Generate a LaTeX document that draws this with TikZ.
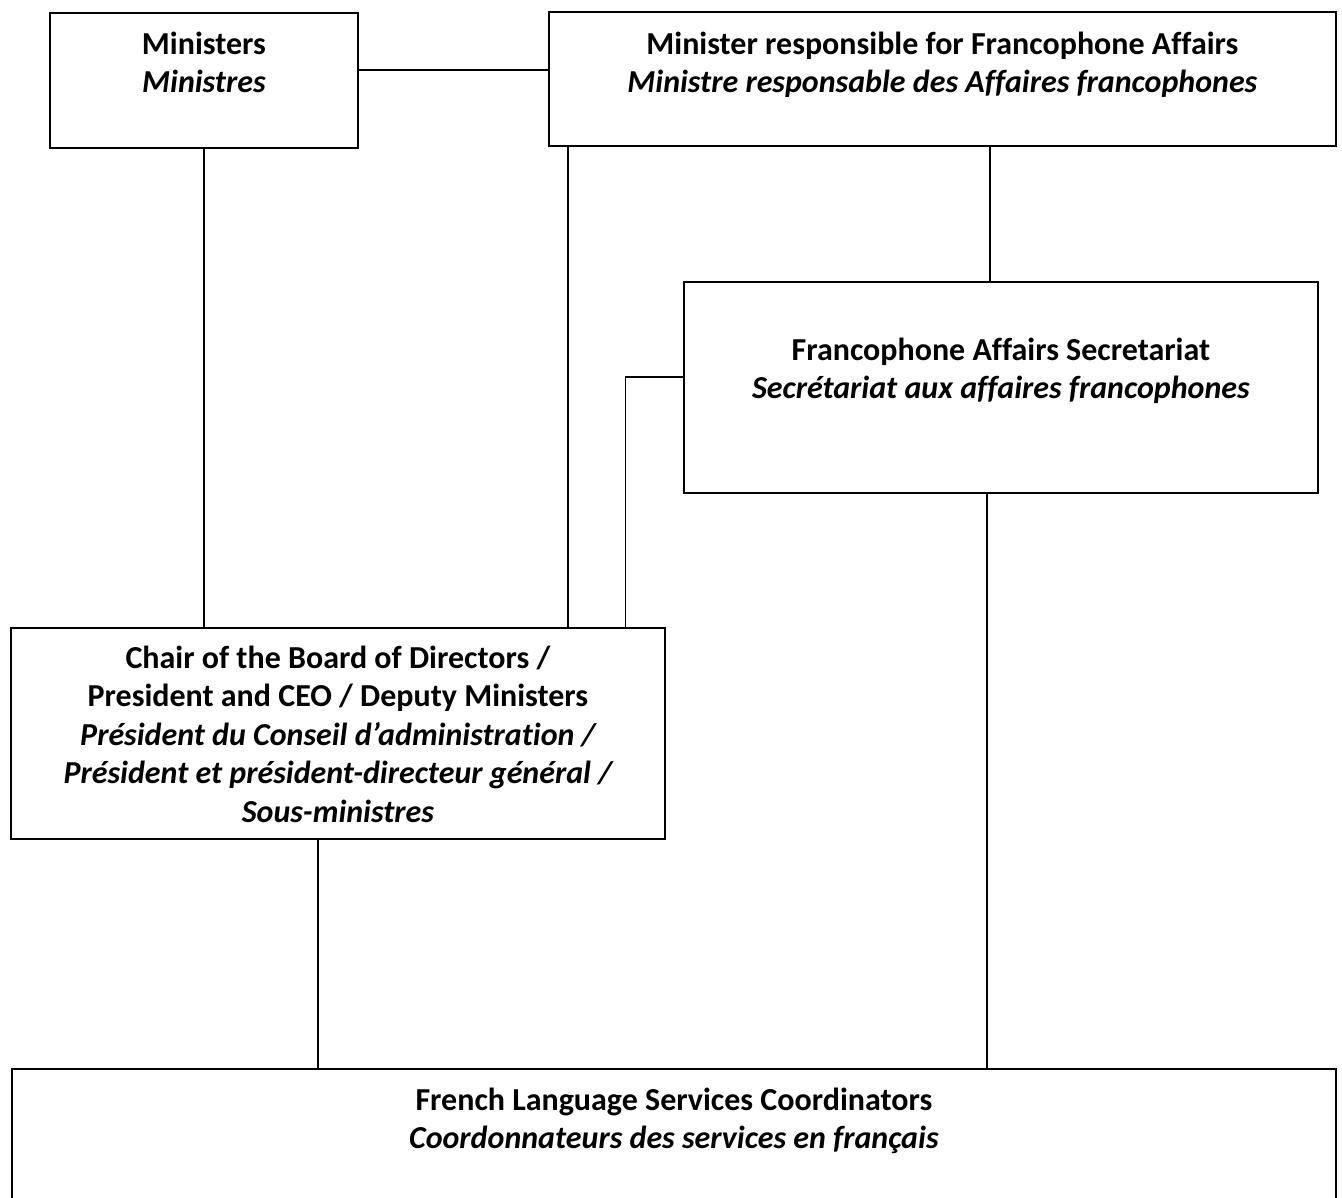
\documentclass[tikz,border=0pt]{standalone}
\usepackage{fontspec}
\setmainfont[RawFeature={-liga;-clig;-dlig}]{Carlito}
\begin{document}
\begin{tikzpicture}[x=1pt,y=1pt,
  box/.style={draw=black,line width=1.8pt,rectangle,inner sep=0pt,anchor=north west},
  lbl/.style={anchor=north,align=center,inner sep=0pt,font=\fontsize{32}{38.5}\selectfont\bfseries},
  link/.style={draw=black,line width=1.7pt}]
\fill[white] (0,0) rectangle (1342,-1198);
\useasboundingbox (0,0) rectangle (1342,-1198);
% boxes
\node[box,minimum width=308pt,minimum height=135pt] (min) at (49,-12) {};
\node[box,minimum width=787pt,minimum height=134pt] (mra) at (548,-11) {};
\node[box,minimum width=634pt,minimum height=211pt] (sec) at (683,-281) {};
\node[box,minimum width=654pt,minimum height=211pt] (chair) at (10,-627) {};
\begin{scope}
\clip (0,0) rectangle (1342,-1198);
\node[box,minimum width=1324pt,minimum height=180pt] (flsc) at (11,-1068) {};
\end{scope}
% texts
\node[lbl] (tmin) at (min.north |- 0,-30) {\rule{0pt}{24pt}Ministers\\ \itshape Ministres};
\node[lbl] (tmra) at (mra.north |- 0,-30) {\rule{0pt}{24pt}Minister responsible for Francophone Affairs\\ \itshape Ministre responsable des Affaires francophones};
\node[lbl] (tsec) at (sec.north |- 0,-336) {\rule{0pt}{24pt}Francophone Affairs Secretariat\\ \itshape Secrétariat aux affaires francophones};
\node[lbl] (tchair) at (chair.north |- 0,-644) {\rule{0pt}{24pt}Chair of the Board of Directors /\\ President and CEO / Deputy Ministers\\ \itshape Président du Conseil d’administration /\\ \itshape Président et président-directeur général /\\ \itshape Sous-ministres};
\node[lbl] (tflsc) at (flsc.north |- 0,-1086) {\rule{0pt}{24pt}French Language Services Coordinators\\ \itshape Coordonnateurs des services en français};
% connectors
\draw[link] (min.east |- 0,-70) -- (mra.west |- 0,-70);
\draw[link] (min.south) -- (min.south |- chair.north);
\draw[link] (mra.south -| 568,0) -- (chair.north -| 568,0);
\draw[link] (mra.south -| 990,0) -- (sec.north -| 990,0);
\draw[link] (sec.west |- 0,-377) -- (625.5,-377) -- (chair.north -| 625.5,0);
\draw[link] (sec.south -| 987,0) -- (flsc.north -| 987,0);
\draw[link] (chair.south -| 318,0) -- (flsc.north -| 318,0);
\end{tikzpicture}
\end{document}
